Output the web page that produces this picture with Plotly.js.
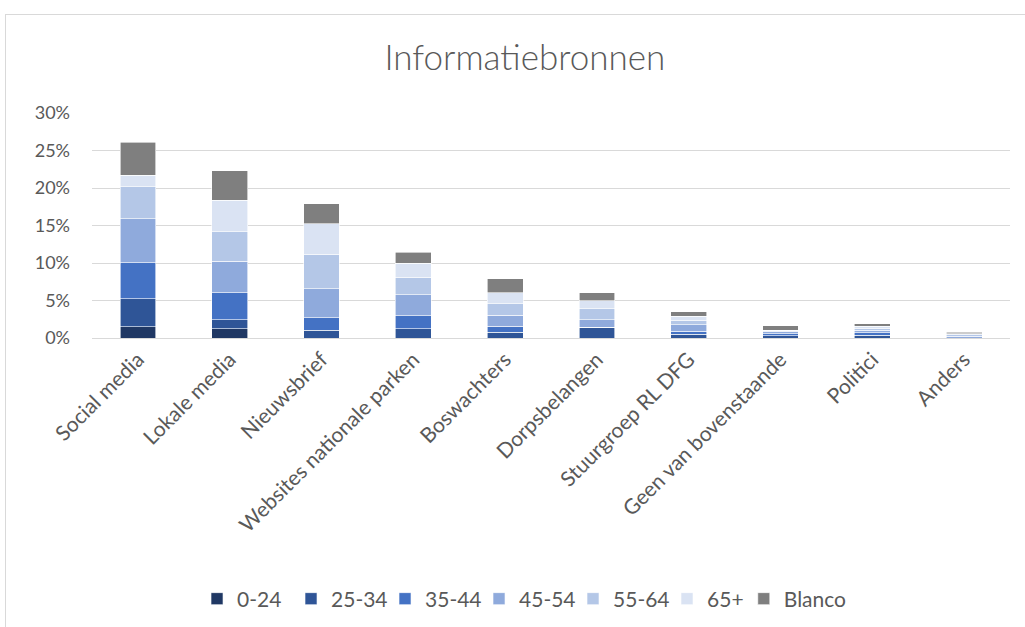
<!DOCTYPE html>
<html>
<head>
<meta charset="utf-8">
<script src="https://cdn.plot.ly/plotly-3.0.1.min.js"></script>
<style>
  html, body { margin: 0; padding: 0; background: #ffffff; }
  #wrap { position: relative; width: 1025px; height: 627px; overflow: hidden; }
  #frame { position: absolute; left: 5px; top: 14px; width: 1100px; height: 700px;
           border-top: 1px solid #D9D9D9; border-left: 1px solid #D9D9D9; box-sizing: border-box; pointer-events: none; }
  #chart { position: absolute; left: 0; top: 0; width: 1025px; height: 627px; }
</style>
</head>
<body>
<div id="wrap">
  <div id="chart"></div>
  <div id="frame"></div>
</div>
<script>
const categories = ["Social media", "Lokale media", "Nieuwsbrief", "Websites nationale parken", "Boswachters",
                    "Dorpsbelangen", "Stuurgroep RL DFG", "Geen van bovenstaande", "Politici", "Anders"];
const seriesNames = ["0-24", "25-34", "35-44", "45-54", "55-64", "65+", "Blanco"];
const seriesColors = ["#203864", "#2F5597", "#4472C4", "#8FAADC", "#B4C7E7", "#DAE3F3", "#7F7F7F"];

// values in percent
const age_0_24  = [1.49, 1.22, 0.00, 0.00, 0.00, 0.00, 0.00, 0.00, 0.00, 0.00];
const age_25_34 = [3.72, 1.20, 1.04, 1.22, 0.77, 1.44, 0.50, 0.30, 0.40, 0.00];
const age_35_44 = [4.83, 3.59, 1.69, 1.77, 0.80, 0.00, 0.40, 0.25, 0.27, 0.00];
const age_45_54 = [5.89, 4.20, 3.86, 2.75, 1.46, 0.98, 0.90, 0.35, 0.35, 0.24];
const age_55_64 = [4.26, 3.99, 4.61, 2.39, 1.56, 1.46, 0.55, 0.15, 0.30, 0.20];
const age_65p   = [1.52, 4.18, 4.03, 1.86, 1.42, 1.10, 0.55, 0.00, 0.27, 0.15];
const blanco    = [4.39, 3.94, 2.70, 1.46, 1.90, 1.06, 0.60, 0.58, 0.30, 0.18];

const seriesValues = [age_0_24, age_25_34, age_35_44, age_45_54, age_55_64, age_65p, blanco];
const yTickVals = [0, 5, 10, 15, 20, 25, 30];
const yTickText = ["0%", "5%", "10%", "15%", "20%", "25%", "30%"];

const FONT = "Lato, 'Open Sans', sans-serif";
const TXT = "#595959";

const traces = seriesNames.map((name, i) => ({
  type: "bar",
  name: name,
  x: categories,
  y: seriesValues[i].map(v => v / 100),
  marker: { color: seriesColors[i], line: { color: "#FFFFFF", width: 0.6 } },
  legend: i === seriesNames.length - 1 ? "legend2" : "legend",
  hoverinfo: "x+y+name"
}));

const legendFont = { family: FONT, size: 21, color: TXT };

const layout = {
  width: 1025,
  height: 627,
  paper_bgcolor: "rgba(0,0,0,0)",
  plot_bgcolor: "rgba(0,0,0,0)",
  barmode: "stack",
  bargap: 0.61,
  margin: { l: 92, r: 15, t: 113, b: 288.5, autoexpand: false },
  title: {
    text: "Informatiebronnen",
    font: { family: FONT, size: 35, color: TXT, weight: 300 },
    x: 0.512, xanchor: "center",
    y: 0.9075, yanchor: "middle", yref: "container"
  },
  xaxis: {
    tickangle: -45,
    tickfont: { family: FONT, size: 21, color: TXT },
    showline: true, linecolor: "#D9D9D9", linewidth: 1,
    ticks: "", showgrid: false
  },
  yaxis: {
    range: [0, 0.30],
    tickvals: yTickVals.map(v => v / 100),
    ticktext: yTickText,
    tickfont: { family: FONT, size: 18, color: TXT },
    ticklabelstandoff: 21,
    showgrid: true, gridcolor: "#D9D9D9", gridwidth: 1,
    zeroline: false, showline: false, ticks: ""
  },
  legend: {
    orientation: "h",
    x: 0.1144, xanchor: "left",
    y: -1.16, yanchor: "middle",
    font: legendFont,
    traceorder: "normal",
    itemwidth: 30,
    entrywidth: 49,
    entrywidthmode: "pixels"
  },
  legend2: {
    orientation: "h",
    x: 0.710, xanchor: "left",
    y: -1.16, yanchor: "middle",
    font: legendFont,
    itemwidth: 30
  },
  showlegend: true
};

Plotly.newPlot("chart", traces, layout, { displayModeBar: false, staticPlot: true });
</script>
</body>
</html>
